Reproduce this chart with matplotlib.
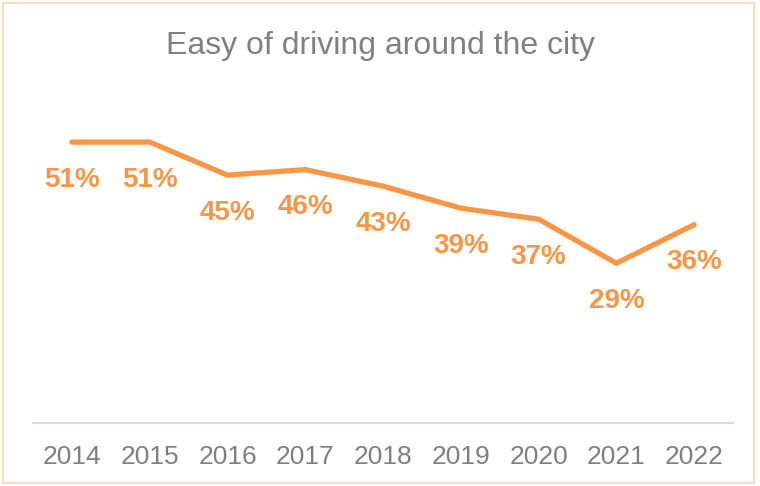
import matplotlib.pyplot as plt
import matplotlib.patches as mpatches

# Data
years = ['2014', '2015', '2016', '2017', '2018', '2019', '2020', '2021', '2022']
values = [51, 51, 45, 46, 43, 39, 37, 29, 36]

orange = '#F79646'
gray_text = '#808080'

plt.rcParams['font.family'] = ['Liberation Sans', 'DejaVu Sans']

W, H = 760, 486
fig = plt.figure(figsize=(W / 100, H / 100), dpi=100)

# Plot area placed in pixel terms
left, right, bottom, top = 33, 733, 423, 92.5
ax = fig.add_axes([left / W, 1 - bottom / H, (right - left) / W, (bottom - top) / H])

x = list(range(len(years)))
ax.plot(x, values, color=orange, linewidth=3.8, solid_capstyle='round', solid_joinstyle='miter')

# Value labels below each point
for xi, v in zip(x, values):
    ax.annotate(f"{v}%", (xi, v), xytext=(0, -27), textcoords='offset points',
                ha='center', va='center', fontsize=20, fontweight='bold', color=orange)

ax.set_xlim(-0.5, len(years) - 0.5)
ax.set_ylim(0, 60)
ax.set_xticks(x)
ax.set_xticklabels(years, fontsize=19, color=gray_text)
ax.tick_params(axis='x', length=0, pad=16)
ax.set_yticks([])

for side in ['top', 'right', 'left']:
    ax.spines[side].set_visible(False)
ax.spines['bottom'].set_color('#D9D9D9')
ax.spines['bottom'].set_linewidth(1.5)

fig.text(0.5, 1 - 46 / H, 'Easy of driving around the city', ha='center', va='center',
         fontsize=23, color=gray_text)

# Light orange chart border
border = mpatches.Rectangle((3 / W, 3 / H), 751 / W, 480 / H, transform=fig.transFigure,
                            fill=False, edgecolor='#FBD5B5', linewidth=1.2)
fig.patches.append(border)

fig.savefig('out.png', dpi=100)
